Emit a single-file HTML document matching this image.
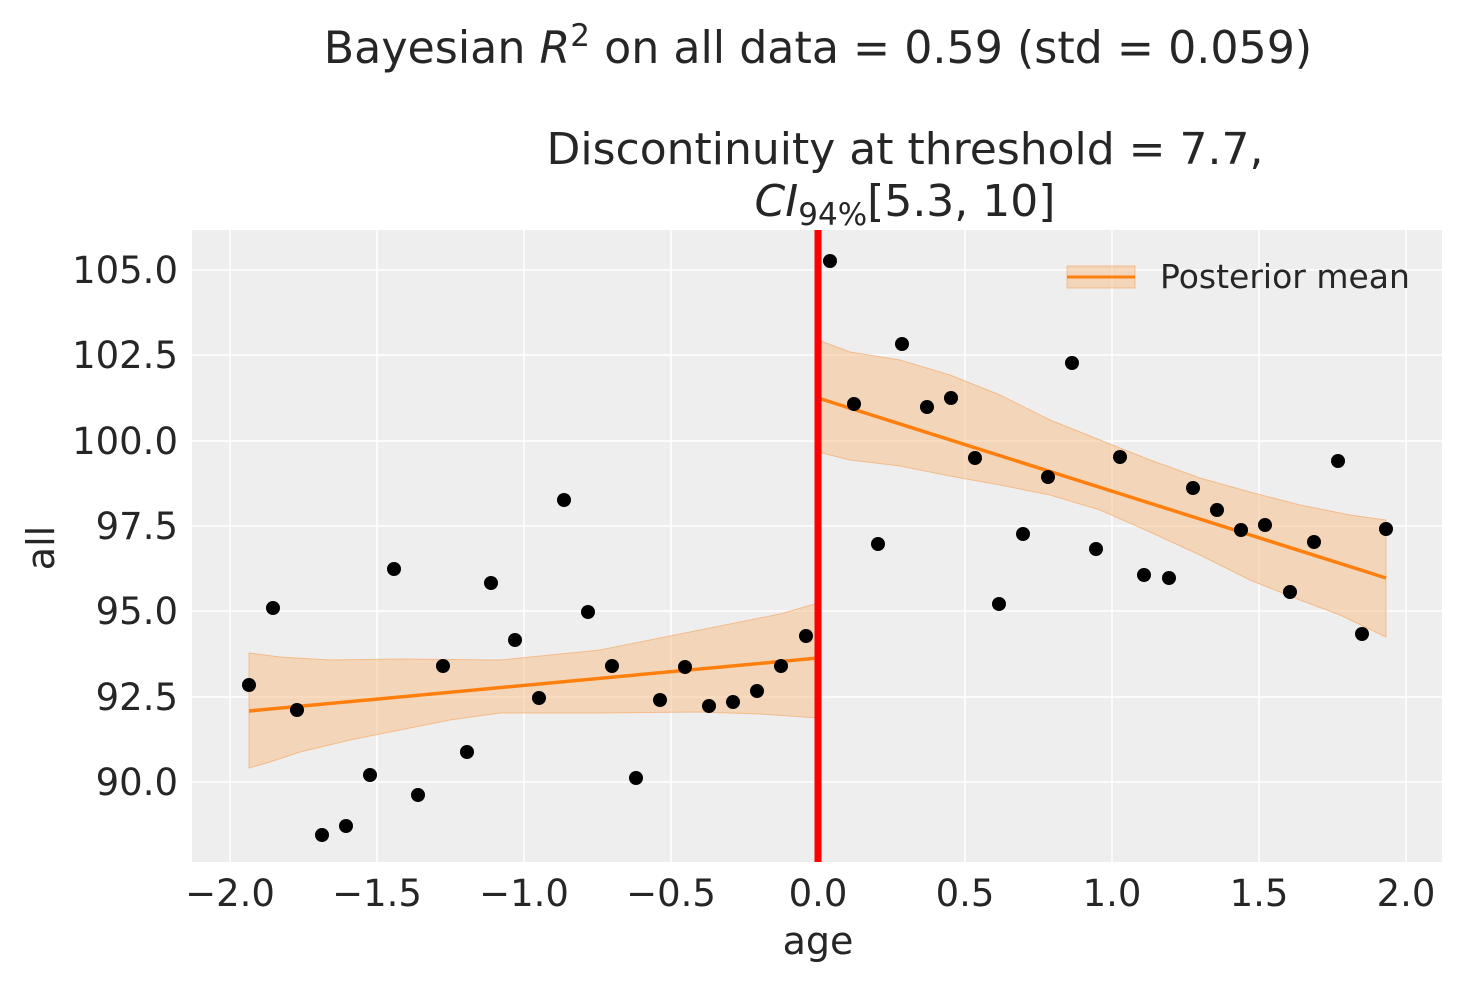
<!DOCTYPE html>
<html><head><meta charset="utf-8"><style>
body{margin:0;background:#fff;}
svg text{font-family:"DejaVu Sans","Liberation Sans",sans-serif;fill:#262626;}
</style></head><body>
<svg width="1463" height="983" xmlns="http://www.w3.org/2000/svg">
<rect width="1463" height="983" fill="#fff"/>
<text x="818" y="63" font-size="44.3" text-anchor="middle">Bayesian <tspan font-style="italic">R</tspan><tspan font-size="31" dy="-17">2</tspan><tspan dy="17"> on all data = 0.59 (std = 0.059)</tspan></text>
<text x="905" y="164" font-size="44" text-anchor="middle">Discontinuity at threshold = 7.7,</text>
<text x="905" y="216" font-size="44" text-anchor="middle"><tspan font-style="italic">CI</tspan><tspan font-size="31" dy="9">94%</tspan><tspan dy="-9">[5.3, 10]</tspan></text>
<rect x="192" y="230" width="1250" height="632" fill="#eeeeee"/>
<g stroke="#fff" stroke-width="1.5">
<line x1="230" y1="230" x2="230" y2="862"/><line x1="377" y1="230" x2="377" y2="862"/><line x1="524" y1="230" x2="524" y2="862"/><line x1="671" y1="230" x2="671" y2="862"/><line x1="818" y1="230" x2="818" y2="862"/><line x1="965" y1="230" x2="965" y2="862"/><line x1="1112" y1="230" x2="1112" y2="862"/><line x1="1259" y1="230" x2="1259" y2="862"/><line x1="1406" y1="230" x2="1406" y2="862"/>
<line x1="192" y1="270" x2="1442" y2="270"/><line x1="192" y1="355" x2="1442" y2="355"/><line x1="192" y1="441" x2="1442" y2="441"/><line x1="192" y1="526" x2="1442" y2="526"/><line x1="192" y1="611" x2="1442" y2="611"/><line x1="192" y1="697" x2="1442" y2="697"/><line x1="192" y1="782" x2="1442" y2="782"/>
</g>
<g font-size="37" text-anchor="middle">
<text x="230" y="906">−2.0</text><text x="377" y="906">−1.5</text><text x="524" y="906">−1.0</text><text x="671" y="906">−0.5</text><text x="818" y="906">0.0</text><text x="965" y="906">0.5</text><text x="1112" y="906">1.0</text><text x="1259" y="906">1.5</text><text x="1406" y="906">2.0</text>
</g>
<g font-size="37" text-anchor="end">
<text x="178" y="283">105.0</text><text x="178" y="368">102.5</text><text x="178" y="454">100.0</text><text x="178" y="539">97.5</text><text x="178" y="624">95.0</text><text x="178" y="710">92.5</text><text x="178" y="795">90.0</text>
</g>
<text x="818" y="954" font-size="38" text-anchor="middle">age</text>
<text transform="translate(54,548) rotate(-90)" font-size="38" text-anchor="middle">all</text>
<path d="M249,653 L280,657 L330,660 L400,659 L500,660 L600,650 L700,630 L780,614 L818,603 L818,718 L760,714 L700,712 L600,713 L500,713 L450,720 L400,730 L350,740 L300,752 L270,762 L249,768 Z" fill="#f8c28f" fill-opacity="0.55" stroke="#f5a25a" stroke-opacity="0.6"/>
<path d="M818,340 L850,352 L900,360 L950,375 L1000,395 L1050,420 L1100,440 L1150,460 L1200,478 L1250,492 L1300,505 L1350,515 L1386,520 L1386,637 L1340,615 L1300,600 L1250,580 L1200,555 L1150,532 L1100,510 L1050,495 L1000,485 L950,476 L900,466 L850,460 L818,452 Z" fill="#f8c28f" fill-opacity="0.55" stroke="#f5a25a" stroke-opacity="0.6"/>
<line x1="249" y1="711" x2="818" y2="658" stroke="#ff7f0e" stroke-width="3.5"/>
<line x1="818" y1="398" x2="1386" y2="578" stroke="#ff7f0e" stroke-width="3.5"/>
<g fill="#000">
<circle cx="249" cy="685" r="7"/><circle cx="273" cy="608" r="7"/><circle cx="297" cy="710" r="7"/><circle cx="322" cy="835" r="7"/><circle cx="346" cy="826" r="7"/><circle cx="370" cy="775" r="7"/><circle cx="394" cy="569" r="7"/><circle cx="418" cy="795" r="7"/><circle cx="443" cy="666" r="7"/><circle cx="467" cy="752" r="7"/><circle cx="491" cy="583" r="7"/><circle cx="515" cy="640" r="7"/><circle cx="539" cy="698" r="7"/><circle cx="564" cy="500" r="7"/><circle cx="588" cy="612" r="7"/><circle cx="612" cy="666" r="7"/><circle cx="636" cy="778" r="7"/><circle cx="660" cy="700" r="7"/><circle cx="685" cy="667" r="7"/><circle cx="709" cy="706" r="7"/><circle cx="733" cy="702" r="7"/><circle cx="757" cy="691" r="7"/><circle cx="781" cy="666" r="7"/><circle cx="806" cy="636" r="7"/>
<circle cx="830" cy="261" r="7"/><circle cx="854" cy="404" r="7"/><circle cx="878" cy="544" r="7"/><circle cx="902" cy="344" r="7"/><circle cx="927" cy="407" r="7"/><circle cx="951" cy="398" r="7"/><circle cx="975" cy="458" r="7"/><circle cx="999" cy="604" r="7"/><circle cx="1023" cy="534" r="7"/><circle cx="1048" cy="477" r="7"/><circle cx="1072" cy="363" r="7"/><circle cx="1096" cy="549" r="7"/><circle cx="1120" cy="457" r="7"/><circle cx="1144" cy="575" r="7"/><circle cx="1169" cy="578" r="7"/><circle cx="1193" cy="488" r="7"/><circle cx="1217" cy="510" r="7"/><circle cx="1241" cy="530" r="7"/><circle cx="1265" cy="525" r="7"/><circle cx="1290" cy="592" r="7"/><circle cx="1314" cy="542" r="7"/><circle cx="1338" cy="461" r="7"/><circle cx="1362" cy="634" r="7"/><circle cx="1386" cy="529" r="7"/>
</g>
<line x1="818" y1="230" x2="818" y2="862" stroke="#ff0000" stroke-width="7"/>
<rect x="1067" y="266" width="68" height="22" fill="#f8c28f" fill-opacity="0.55" stroke="#f5a25a" stroke-opacity="0.6"/>
<line x1="1067" y1="277" x2="1135" y2="277" stroke="#ff7f0e" stroke-width="3"/>
<text x="1160" y="288" font-size="33">Posterior mean</text>
</svg>
</body></html>
